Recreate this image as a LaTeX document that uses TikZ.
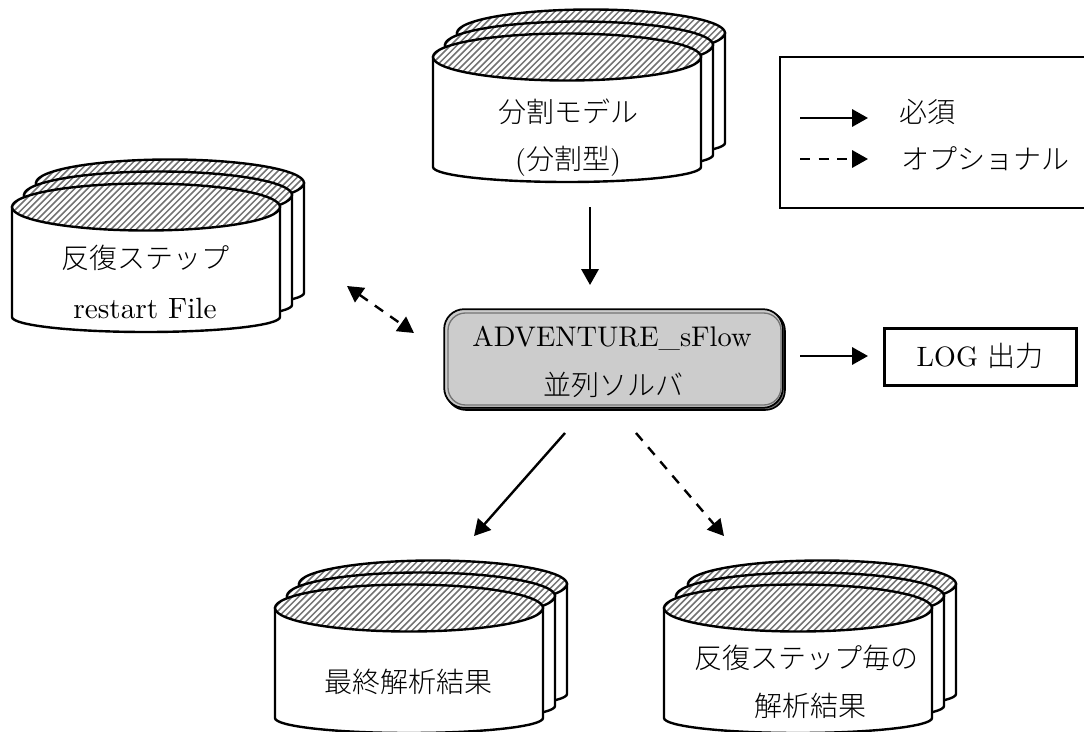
\documentclass[tikz,border=0pt]{standalone}
\usepackage{fontspec}
\setmainfont{lmroman10-regular.otf}
\newfontfamily\cjk{Noto Sans CJK JP Light}
\usetikzlibrary{arrows.meta}
\tikzset{
  flow/.style={line width=1.8pt,-{Triangle[length=12pt,width=13pt]}},
  opt/.style={flow,dash pattern=on 7.5pt off 6.5pt},
  optboth/.style={line width=1.8pt,dash pattern=on 7.5pt off 6.5pt,{Triangle[length=12pt,width=13pt]}-{Triangle[length=12pt,width=13pt]}},
  lab/.style={font=\fontsize{21}{25}\selectfont,inner sep=0pt,anchor=center},
  plain/.style={draw=black,line width=1.8pt},
  hatchline/.style={draw=black!55,line width=1.15pt},
}
% #1 x of the left edge of the front disc, #2 y of the centre of the front disc, #3 node name
\newcommand{\drumstack}[3]{%
  \foreach \k in {2,1,0}{
    \pgfmathsetmacro{\xl}{#1+12*\k}
    \pgfmathsetmacro{\xc}{\xl+134}
    \pgfmathsetmacro{\yc}{#2-12*\k}
    \pgfmathsetmacro{\yb}{\yc+110}
    \filldraw[plain,fill=white] (\xl,\yc) -- (\xl,\yb) arc[start angle=180,end angle=0,x radius=134,y radius=15] -- (\xl+268,\yc) -- cycle;
    \fill[white] (\xc,\yc) ellipse[x radius=134,y radius=23.5];
    \begin{scope}
      \clip (\xc,\yc) ellipse[x radius=134,y radius=23.5];
      \foreach \s in {-25,...,25}{
        \draw[hatchline] (\xc+\s*6.4-30,\yc+30) -- ++(60,-60);
      }
    \end{scope}
    \draw[plain] (\xc,\yc) ellipse[x radius=134,y radius=23.5];
  }
  \coordinate (#3) at (#1+134,#2);
}
\begin{document}
\begin{tikzpicture}[x=0.75pt,y=-0.75pt]
\useasboundingbox (0,0) rectangle (1084,731);
\fill[white] (0,0) rectangle (1084,731);
\begin{scope}
\clip (0,0) rectangle (1084,731);
\drumstack{433}{57}{dtop}
\drumstack{12}{207}{dleft}
\drumstack{275}{608}{dfinal}
\drumstack{664}{608}{dstep}
\end{scope}
% solver
\draw[draw=black,line width=1.2pt,fill=black!55,rounded corners=15pt] (446,311) rectangle (785,410);
\node[draw=black,line width=1.3pt,fill=black!20,rounded corners=15pt,minimum width=254pt,minimum height=74pt,inner sep=0pt] (solver) at (613.5,358.5) {};
\draw[draw=black!55,line width=1pt,rounded corners=13pt] (448,313) rectangle (781,405);
\node[lab,font=\fontsize{21.3}{25}\selectfont] (t1) at (612,338) {ADVENTURE\_sFlow};
\node[lab] (t2) at (613,385) {\cjk 並列ソルバ};
% drum labels
\node[lab] at (568,112) {\cjk 分割モデル};
\node[lab] at (568,161) {(\cjk 分割型\normalfont)};
\node[lab] at (145,258) {\cjk 反復ステップ};
\node[lab,font=\fontsize{22}{25}\selectfont] at (145,308) {restart File};
\node[lab] at (408,682) {\cjk 最終解析結果};
\node[lab] at (806,658) {\cjk 反復ステップ毎の};
\node[lab] at (810,706) {\cjk 解析結果};
% log
\node[plain,minimum width=144pt,minimum height=43pt,inner sep=0pt] (logbox) at (980.5,357) {};
\node[lab] at (980,356) {LOG {\cjk 出力}};
% legend
\draw[plain] (780,57) rectangle (1090,208);
\coordinate (la) at (800,118); \coordinate (lb) at (868,118);
\coordinate (lc) at (800,159); \coordinate (ld) at (868,159);
\draw[flow] (la) -- (lb);
\draw[opt] (lc) -- (ld);
\node[lab] at (927,112) {\cjk 必須};
\node[lab] at (985,159) {\cjk オプショナル};
% connectors
\coordinate (a1) at (590,207); \coordinate (a2) at (590,285);
\draw[flow] (a1) -- (a2);
\coordinate (b1) at (347,286); \coordinate (b2) at (414,333);
\draw[optboth] (b1) -- (b2);
\coordinate (c1) at (800,356); \coordinate (c2) at (868,356);
\draw[flow] (c1) -- (c2);
\coordinate (d1) at (565,433); \coordinate (d2) at (474,536);
\draw[flow] (d1) -- (d2);
\coordinate (e1) at (636,433); \coordinate (e2) at (724,536);
\draw[opt] (e1) -- (e2);
\end{tikzpicture}
\end{document}
